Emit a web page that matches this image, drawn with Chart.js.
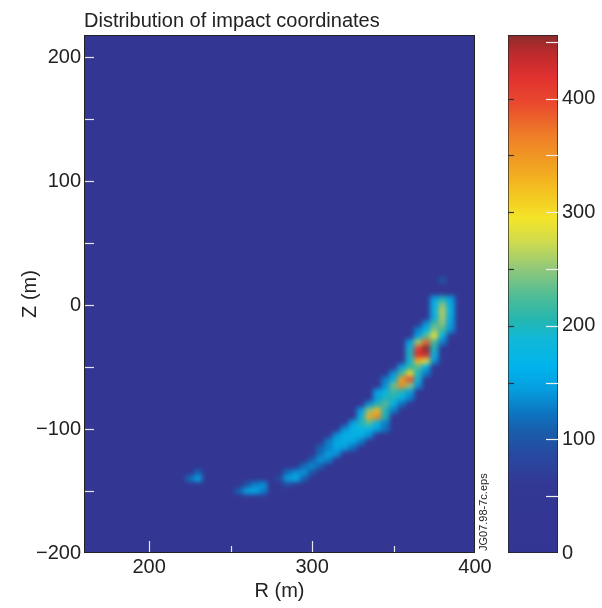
<!DOCTYPE html>
<html lang="en">
<head>
<meta charset="UTF-8">
<title>Distribution of impact coordinates</title>
<script src="https://cdn.jsdelivr.net/npm/chart.js"></script>
<style>
  body { margin: 0; background: #fff; font-family: 'Liberation Sans', Arial, sans-serif; }
  .wrap { position: relative; width: 602px; height: 608px; }
  #main { position: absolute; left: 0; top: 0; }
  #bar { position: absolute; left: 490px; top: 0; }
  .tag { position: absolute; left: 478px; top: 551px; font-size: 11px; line-height: 11px; color: #222;
         transform: rotate(-90deg); transform-origin: 0 0; white-space: nowrap; }
</style>
</head>
<body>
<div class="wrap">
  <canvas id="main" width="602" height="608"></canvas>
  <canvas id="bar" width="112" height="608"></canvas>
  <div class="tag">JG07.98-7c.eps</div>
</div>
<script>
// axes
const rangeR = [160, 400];
const rangeZ = [-200, 218];
const cellSize = 5;      // m, bin width in R and Z
const baseCount = 12;    // the flat background level

// binned impact counts, one entry per row segment:
// row Z, R of first bin, then counts every 5 m in R
const segZ = [20, 5, 0, -5, -10, -15, -20, -25, -30, -35, -40, -45, -50, -55, -60, -65, -70, -75,
              -80, -85, -90, -95, -100, -105, -110, -115, -120, -125, -130, -135, -135, -140, -140,
              -145, -145, -150];
const segR = [380, 375, 375, 375, 375, 370, 365, 365, 360, 360, 360, 360, 355, 350, 345, 345, 340, 340,
              335, 330, 330, 325, 320, 315, 310, 305, 305, 300, 295, 285, 230, 280, 225,
              260, 285, 255];
const segCounts = [
  [100],
  [150, 200, 150],
  [170, 250, 160],
  [175, 265, 170],
  [170, 260, 160],
  [140, 220, 250, 150],
  [130, 170, 250, 220, 140],
  [150, 230, 290, 170],
  [150, 260, 380, 220, 130],
  [190, 400, 455, 200],
  [200, 420, 430, 170],
  [190, 330, 280, 140],
  [150, 210, 230, 160],
  [140, 220, 300, 200, 130],
  [130, 180, 340, 390, 190],
  [140, 240, 350, 250, 140],
  [150, 180, 220, 200, 150],
  [150, 200, 200, 170, 130],
  [140, 200, 230, 170, 120],
  [150, 250, 320, 200, 130],
  [180, 330, 350, 200],
  [150, 200, 230, 180, 130],
  [140, 170, 180, 170, 150, 120],
  [140, 165, 175, 170, 140],
  [130, 160, 170, 160, 130],
  [110, 130, 160, 150, 120],
  [120, 150, 140],
  [110, 140, 130],
  [120, 135, 110],
  [120, 140, 140, 100],
  [110],
  [90, 150, 165, 110],
  [120, 150],
  [100, 130, 140],
  [90],
  [110, 150, 155, 130]
];

// colour scale
const cbMax = 456;
const cbValues = [0, 60, 85, 105, 125, 145, 165, 190, 205, 225, 250, 275, 295, 320, 345, 370, 395, 420, 440, 456];
const cbColors = ['#333592', '#333895', '#28489f', '#1a5ba9', '#0c78c4', '#05a0e0', '#00b4ec', '#12b8d6',
                  '#24b6b0', '#4cbc98', '#90c87a', '#d2dc4c', '#f4e428', '#f4c020', '#f09c22', '#ee7a28',
                  '#ea4a2e', '#e03030', '#bc2a2c', '#8c2c2c'];

Chart.defaults.font.family = "'Liberation Sans', Arial, sans-serif";
Chart.defaults.color = '#222';

function hexRgb(h) {
  return [parseInt(h.slice(1, 3), 16), parseInt(h.slice(3, 5), 16), parseInt(h.slice(5, 7), 16)];
}
function colorAt(v) {
  if (v <= cbValues[0]) return cbColors[0];
  for (let i = 1; i < cbValues.length; i++) {
    if (v <= cbValues[i]) {
      const t = (v - cbValues[i - 1]) / (cbValues[i] - cbValues[i - 1]);
      const a = hexRgb(cbColors[i - 1]), b = hexRgb(cbColors[i]);
      const c = a.map((x, k) => Math.round(x + (b[k] - x) * t));
      return `rgb(${c[0]},${c[1]},${c[2]})`;
    }
  }
  return cbColors[cbColors.length - 1];
}
const fmt = v => v < 0 ? '\u2212' + Math.abs(v) : String(v);

const cells = [];
segZ.forEach((z, i) => {
  segCounts[i].forEach((n, j) => cells.push({ x: segR[i] + j * cellSize, y: z, v: n }));
});

// paints the bins crisp on a scratch canvas, then lays it down softened
const heatmap = {
  id: 'heatmap',
  beforeDatasetsDraw(chart) {
    const { ctx, chartArea: a, scales: { x, y } } = chart;
    const off = document.createElement('canvas');
    off.width = chart.width; off.height = chart.height;
    const o = off.getContext('2d');
    o.fillStyle = colorAt(baseCount);
    o.fillRect(a.left - 20, a.top - 20, a.width + 40, a.height + 40);
    chart.data.datasets[0].data.forEach(p => {
      const x0 = x.getPixelForValue(p.x - cellSize / 2), x1 = x.getPixelForValue(p.x + cellSize / 2);
      const y0 = y.getPixelForValue(p.y + cellSize / 2), y1 = y.getPixelForValue(p.y - cellSize / 2);
      o.fillStyle = colorAt(p.v);
      o.fillRect(x0, y0, x1 - x0, y1 - y0);
    });
    ctx.save();
    ctx.beginPath();
    ctx.rect(a.left, a.top, a.width, a.height);
    ctx.clip();
    ctx.filter = 'blur(2.5px)';
    ctx.drawImage(off, 0, 0);
    ctx.restore();
  }
};

// box round the plot and the small white ticks pointing inwards
const frame = {
  id: 'frame',
  afterDraw(chart) {
    const { ctx, chartArea: a, scales: { x, y } } = chart;
    ctx.save();
    ctx.strokeStyle = '#e6e6f2';
    ctx.lineWidth = 1.2;
    y.ticks.forEach(t => {
      const py = Math.round(y.getPixelForValue(t.value)) + 0.5;
      if (py > a.bottom - 2) return;
      ctx.beginPath(); ctx.moveTo(a.left, py); ctx.lineTo(a.left + 10, py); ctx.stroke();
    });
    x.ticks.forEach(t => {
      const px = Math.round(x.getPixelForValue(t.value)) + 0.5;
      if (px > a.right - 2) return;
      const len = t.value % 100 === 0 ? 12 : 7;
      ctx.beginPath(); ctx.moveTo(px, a.bottom); ctx.lineTo(px, a.bottom - len); ctx.stroke();
    });
    ctx.strokeStyle = '#222';
    ctx.lineWidth = 1;
    ctx.strokeRect(a.left + 0.5, a.top + 0.5, a.width - 1, a.height - 1);
    ctx.restore();
  }
};

new Chart(document.getElementById('main'), {
  type: 'scatter',
  data: { datasets: [{ data: cells, pointRadius: 0, pointHoverRadius: 0 }] },
  options: {
    responsive: false,
    animation: false,
    events: [],
    layout: { padding: { left: 0, right: 127, top: 0, bottom: 0 } },
    plugins: {
      legend: { display: false },
      tooltip: { enabled: false },
      title: {
        display: true, text: 'Distribution of impact coordinates', align: 'start', fullSize: false,
        color: '#222', font: { size: 20, weight: 'normal' }, padding: { top: 9, bottom: 2 }
      }
    },
    scales: {
      x: {
        type: 'linear', min: rangeR[0], max: rangeR[1],
        grid: { display: false, drawTicks: false }, border: { display: false },
        ticks: { stepSize: 50, includeBounds: false, autoSkip: false, maxRotation: 0, padding: 2,
                 font: { size: 20 }, callback: v => v % 100 === 0 ? fmt(v) : '' },
        title: { display: true, text: 'R (m)', font: { size: 20 }, padding: { top: 0, bottom: 5 } },
        afterFit: s => { s.height = 55; }
      },
      y: {
        type: 'linear', min: rangeZ[0], max: rangeZ[1],
        grid: { display: false, drawTicks: false }, border: { display: false },
        ticks: { stepSize: 50, includeBounds: false, autoSkip: false, padding: 3,
                 font: { size: 20 }, callback: v => v % 100 === 0 ? fmt(v) : '' },
        title: { display: true, text: 'Z (m)', font: { size: 20 }, padding: { top: 18, bottom: 0 } },
        afterFit: s => { s.width = 84; }
      }
    }
  },
  plugins: [heatmap, frame]
});

// colour bar
function barGradient(chart) {
  if (!chart.chartArea) return cbColors[0];
  const y = chart.scales.y;
  const g = chart.ctx.createLinearGradient(0, y.getPixelForValue(0), 0, y.getPixelForValue(cbMax));
  cbValues.forEach((v, i) => g.addColorStop(v / cbMax, cbColors[i]));
  return g;
}

const barTicks = {
  id: 'barTicks',
  afterDraw(chart) {
    const { ctx, chartArea: a, scales: { y } } = chart;
    ctx.save();
    y.ticks.forEach(t => {
      if (t.value <= 0) return;
      const py = Math.round(y.getPixelForValue(t.value)) + 0.5;
      ctx.lineWidth = 1.2;
      ctx.strokeStyle = '#eeeeee';
      ctx.beginPath(); ctx.moveTo(a.right - 12, py); ctx.lineTo(a.right, py); ctx.stroke();
      if (t.value >= 150 && t.value <= 400) {
        ctx.strokeStyle = '#333';
        ctx.beginPath(); ctx.moveTo(a.left, py); ctx.lineTo(a.left + 6, py); ctx.stroke();
      }
    });
    ctx.restore();
  }
};

new Chart(document.getElementById('bar'), {
  type: 'bar',
  data: {
    labels: [''],
    datasets: [{
      data: [[0, cbMax]],
      backgroundColor: c => barGradient(c.chart),
      borderColor: '#222', borderWidth: 1, borderSkipped: false,
      barPercentage: 1, categoryPercentage: 1
    }]
  },
  options: {
    responsive: false,
    animation: false,
    events: [],
    layout: { padding: { left: 18, right: 0, top: 35, bottom: 55 } },
    plugins: { legend: { display: false }, tooltip: { enabled: false } },
    scales: {
      x: { display: false },
      y: {
        position: 'right', min: 0, max: cbMax,
        grid: { display: false, drawTicks: false }, border: { display: false },
        ticks: { stepSize: 50, includeBounds: false, autoSkip: false, padding: 4,
                 font: { size: 20 }, callback: v => v % 100 === 0 ? String(v) : '' },
        afterFit: s => { s.width = 44; }
      }
    }
  },
  plugins: [barTicks]
});
</script>
</body>
</html>
